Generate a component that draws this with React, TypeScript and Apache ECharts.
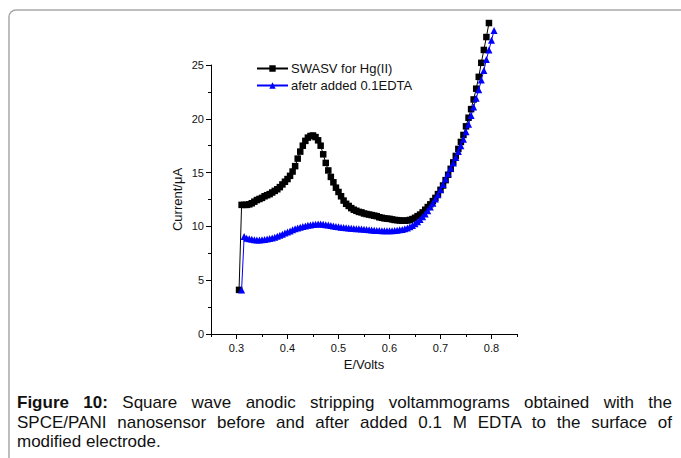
import React, { useEffect, useRef } from "react";
import * as echarts from "echarts";

const hgX = [0.305,0.31,0.315,0.32,0.325,0.33,0.335,0.34,0.345,0.35,0.355,0.36,0.365,0.37,0.375,0.38,0.385,0.39,0.395,0.4,0.405,0.41,0.415,0.42,0.425,0.43,0.435,0.44,0.445,0.45,0.455,0.46,0.465,0.47,0.475,0.48,0.485,0.49,0.495,0.5,0.505,0.51,0.515,0.52,0.525,0.53,0.535,0.54,0.545,0.55,0.555,0.56,0.565,0.57,0.575,0.58,0.585,0.59,0.595,0.6,0.605,0.61,0.615,0.62,0.625,0.63,0.635,0.64,0.645,0.65,0.655,0.66,0.665,0.67,0.675,0.68,0.685,0.69,0.695,0.7,0.705,0.71,0.715,0.72,0.725,0.73,0.735,0.74,0.745,0.75,0.755,0.76,0.765,0.77,0.775,0.78,0.785,0.79,0.795];
const hgY = [4.1,12.0,12.0,12.0,12.05,12.15,12.3,12.45,12.55,12.65,12.8,12.9,13.0,13.15,13.3,13.45,13.65,13.9,14.15,14.4,14.7,15.1,15.6,16.3,16.95,17.5,17.95,18.25,18.4,18.45,18.3,18.0,17.5,16.7,15.9,15.2,14.6,14.1,13.6,13.2,12.8,12.4,12.1,11.9,11.7,11.55,11.45,11.35,11.3,11.2,11.15,11.1,11.05,11.0,10.95,10.85,10.8,10.75,10.72,10.7,10.65,10.6,10.58,10.55,10.53,10.53,10.55,10.6,10.68,10.8,10.95,11.1,11.3,11.55,11.8,12.05,12.35,12.65,13.0,13.4,13.8,14.3,14.8,15.35,15.95,16.55,17.2,17.85,18.5,19.3,20.1,20.9,21.8,22.8,23.9,25.2,26.4,27.6,28.9];

const edtaX = [0.31,0.315,0.32,0.325,0.33,0.335,0.34,0.345,0.35,0.355,0.36,0.365,0.37,0.375,0.38,0.385,0.39,0.395,0.4,0.405,0.41,0.415,0.42,0.425,0.43,0.435,0.44,0.445,0.45,0.455,0.46,0.465,0.47,0.475,0.48,0.485,0.49,0.495,0.5,0.505,0.51,0.515,0.52,0.525,0.53,0.535,0.54,0.545,0.55,0.555,0.56,0.565,0.57,0.575,0.58,0.585,0.59,0.595,0.6,0.605,0.61,0.615,0.62,0.625,0.63,0.635,0.64,0.645,0.65,0.655,0.66,0.665,0.67,0.675,0.68,0.685,0.69,0.695,0.7,0.705,0.71,0.715,0.72,0.725,0.73,0.735,0.74,0.745,0.75,0.755,0.76,0.765,0.77,0.775,0.78,0.785,0.79,0.795,0.8,0.805];
const edtaY = [4.1,9.05,8.9,8.85,8.8,8.75,8.74,8.74,8.75,8.78,8.82,8.87,8.93,9.0,9.08,9.17,9.27,9.38,9.48,9.58,9.68,9.77,9.85,9.92,9.98,10.04,10.1,10.14,10.18,10.2,10.22,10.22,10.2,10.16,10.12,10.08,10.04,10.0,9.96,9.93,9.9,9.88,9.85,9.83,9.81,9.79,9.77,9.75,9.73,9.71,9.69,9.67,9.65,9.63,9.62,9.6,9.6,9.6,9.6,9.6,9.62,9.65,9.68,9.72,9.78,9.86,9.96,10.08,10.25,10.44,10.65,10.9,11.15,11.45,11.8,12.15,12.55,12.95,13.4,13.9,14.4,14.9,15.4,15.9,16.4,16.95,17.5,18.1,18.8,19.5,20.3,21.1,21.9,22.7,23.6,24.5,25.5,26.4,27.3,28.2];

const xTickValues = [0.3, 0.4, 0.5, 0.6, 0.7, 0.8];
const xMinorTickValues = [0.25, 0.35, 0.45, 0.55, 0.65, 0.75, 0.85];
const seriesNames = ["SWASV for Hg(II)", "afetr added 0.1EDTA"];
const captionLines = [
  { bold: "Figure 10:", text: " Square wave anodic stripping voltammograms obtained with the" },
  { bold: "", text: "SPCE/PANI nanosensor before and after added 0.1 M EDTA to the surface of" },
  { bold: "", text: "modified electrode." },
];

const FONT = "Arial, 'Liberation Sans', Helvetica, sans-serif";

export default function App() {
  const ref = useRef<HTMLDivElement>(null);
  useEffect(() => {
    if (!ref.current) return;
    const chart = echarts.init(ref.current, undefined, { renderer: "svg" });
    const pairs = (xs: number[], ys: number[]) => xs.map((x, i) => [x, ys[i]]);
    chart.setOption({
      animation: false,
      backgroundColor: "#fff",
      textStyle: { fontFamily: FONT },
      grid: { left: 211, right: 164, top: 65, bottom: 124, containLabel: false },
      legend: {
        orient: "vertical",
        left: 256,
        top: 62,
        padding: 0,
        itemWidth: 31,
        itemHeight: 8,
        itemGap: 4,
        textStyle: { fontSize: 13, color: "#111", fontFamily: FONT, padding: [0, 0, 0, -2] },
        data: seriesNames,
      },
      xAxis: [
        {
          type: "value",
          min: 0.25,
          max: 0.85,
          name: "E/Volts",
          nameLocation: "middle",
          nameGap: 22,
          nameTextStyle: { fontSize: 13, color: "#111", fontFamily: FONT },
          axisLine: { show: true, onZero: false, lineStyle: { color: "#000", width: 1 } },
          axisTick: { show: true, inside: false, length: 5, customValues: xTickValues, lineStyle: { color: "#000" } },
          axisLabel: { show: true, customValues: xTickValues, fontSize: 11, color: "#111", margin: 8, formatter: (v: number) => v.toFixed(1) },
          splitLine: { show: false },
        },
        {
          type: "value",
          min: 0.25,
          max: 0.85,
          position: "bottom",
          axisLine: { show: false },
          axisTick: { show: true, inside: false, length: 3, customValues: xMinorTickValues, lineStyle: { color: "#000" } },
          axisLabel: { show: false },
          splitLine: { show: false },
        },
      ],
      yAxis: {
        type: "value",
        min: 0,
        max: 25,
        interval: 5,
        name: "Current/\u03bcA",
        nameLocation: "middle",
        nameGap: 27,
        nameTextStyle: { fontSize: 13, color: "#111", fontFamily: FONT },
        axisLine: { show: true, onZero: false, lineStyle: { color: "#000", width: 1 } },
        axisTick: { show: true, inside: false, length: 5, lineStyle: { color: "#000" } },
        minorTick: { show: true, splitNumber: 2, length: 3, lineStyle: { color: "#000" } },
        axisLabel: { fontSize: 11, color: "#111", margin: 7 },
        splitLine: { show: false },
        minorSplitLine: { show: false },
      },
      series: [
        {
          name: seriesNames[0],
          type: "line",
          data: pairs(hgX, hgY),
          clip: false,
          symbol: "rect",
          symbolSize: 6.5,
          color: "#000",
          itemStyle: { color: "#000" },
          lineStyle: { color: "#000", width: 1 },
          z: 2,
        },
        {
          name: seriesNames[1],
          type: "line",
          data: pairs(edtaX, edtaY),
          clip: false,
          symbol: "triangle",
          symbolSize: 7,
          color: "#0000ff",
          itemStyle: { color: "#0000ff" },
          lineStyle: { color: "#0000ff", width: 1 },
          z: 3,
        },
      ],
      graphic: [
        {
          type: "rect",
          shape: { x: 9, y: 10, width: 800, height: 600, r: [7, 0, 0, 0] },
          style: { fill: "none", stroke: "#a8a8a8", lineWidth: 1.5 },
          silent: true,
          z: -10,
        },
      ],
    });
    return () => chart.dispose();
  }, []);

  const lineStyle = (justify: boolean, top: number): React.CSSProperties => ({
    position: "absolute",
    left: 17,
    width: 655,
    top,
    fontFamily: FONT,
    fontSize: 17,
    lineHeight: "19px",
    color: "#111",
    whiteSpace: "nowrap",
    textAlign: justify ? "justify" : "left",
    textAlignLast: justify ? "justify" : "left",
  });

  return (
    <div style={{ position: "absolute", left: 0, top: 0, width: 681, height: 458, background: "#fff", overflow: "hidden" }}>
      <div ref={ref} style={{ position: "absolute", left: 0, top: 0, width: 681, height: 458 }} />
      {captionLines.map((l, i) => (
        <div key={i} style={lineStyle(i < 2, 393 + i * 19.7)}>
          {l.bold ? <b>{l.bold}</b> : null}
          {l.text}
        </div>
      ))}
    </div>
  );
}
